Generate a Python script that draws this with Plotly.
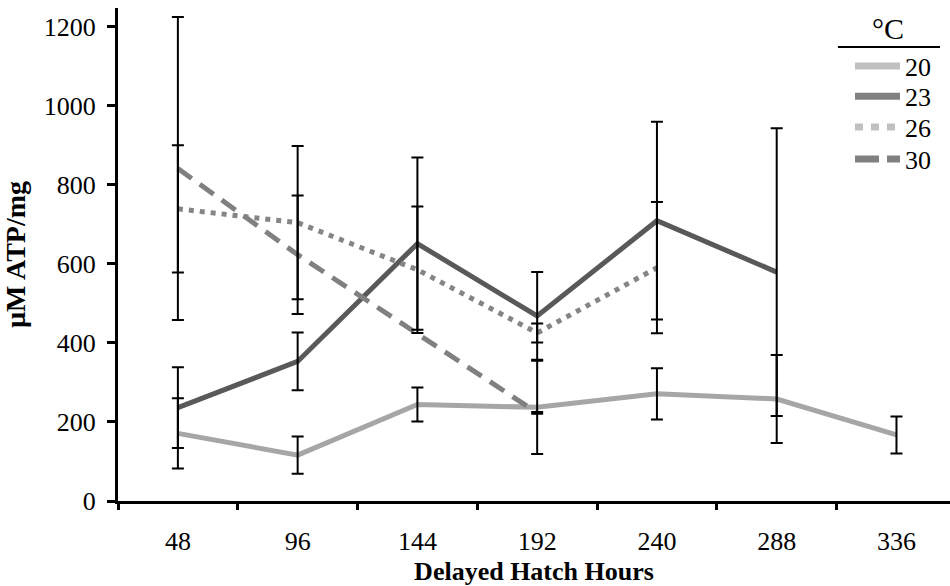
import plotly.graph_objects as go

# Delayed hatch time points (hours)
hours = ["48", "96", "144", "192", "240", "288", "336"]

# Mean ATP (µM ATP/mg) per rearing temperature, with error-bar half-widths
atp_20 = [171, 116, 244, 237, 271, 258, 167]
err_20 = [89, 47, 43, 118, 65, 111, 47]

atp_23 = [236, 353, 651, 468, 709, 579, None]
err_23 = [102, 73, 218, 111, 250, 364, None]

atp_26 = [739, 704, 585, 425, 590, None, None]
err_26 = [161, 194, 160, 24, 166, None, None]

atp_30 = [841, 623, None, 223, None, None, None]
err_30 = [383, 150, None, 2, None, None, None]

temps = ["20", "23", "26", "30"]

FONT = "Liberation Serif"

series = [
    # values, errors, line colour, dash, key colour, key dash
    (atp_20, err_20, "#a6a6a6", "solid", "#c0c0c0", "solid"),
    (atp_23, err_23, "#595959", "solid", "#808080", "solid"),
    (atp_26, err_26, "#858585", "5px,6px", "#c0c0c0", "8px,8px"),
    (atp_30, err_30, "#808080", "17px,10px", "#808080", "24px,8px"),
]

fig = go.Figure()

# data lines
for vals, errs, col, dash, _, _ in series:
    fig.add_trace(go.Scatter(
        x=hours, y=vals, mode="lines", connectgaps=True,
        line=dict(color=col, width=5, dash=dash),
        showlegend=False, hoverinfo="skip",
    ))

# error bars drawn above the lines
for vals, errs, col, dash, _, _ in series:
    fig.add_trace(go.Scatter(
        x=hours, y=vals, mode="markers",
        marker=dict(size=1, color="rgba(0,0,0,0)"),
        error_y=dict(type="data", array=errs, visible=True,
                     color="black", thickness=2, width=6),
        showlegend=False, hoverinfo="skip",
    ))

# one single-entry legend per temperature so each key row can be placed
legend_ids = ["legend", "legend2", "legend3", "legend4"]
legend_rows = [0.882, 0.821, 0.7585, 0.6935]
for name, (vals, errs, col, dash, lcol, ldash), lid in zip(temps, series, legend_ids):
    fig.add_trace(go.Scatter(
        x=[None], y=[None], mode="lines", name=name, legend=lid,
        line=dict(color=lcol, width=7, dash=ldash),
    ))

legend_layout = {}
for lid, ly in zip(legend_ids, legend_rows):
    legend_layout[lid] = dict(
        x=0.8798, y=ly, xanchor="left", yanchor="middle",
        itemwidth=45,
        font=dict(family=FONT, size=26, color="black"),
        bgcolor="rgba(0,0,0,0)",
    )

fig.update_layout(
    width=950, height=586,
    margin=dict(l=118, r=0, t=8, b=85),
    paper_bgcolor="white", plot_bgcolor="white",
    font=dict(family=FONT, size=26, color="black"),
    showlegend=True,
    annotations=[dict(
        text="°C", xref="paper", yref="paper", x=0.925, y=0.921,
        xanchor="center", yanchor="bottom", showarrow=False,
        font=dict(family=FONT, size=30, color="black"),
    )],
    shapes=[dict(
        type="line", xref="paper", yref="paper",
        x0=0.8653, x1=0.988, y0=0.9208, y1=0.9208,
        line=dict(color="black", width=2),
    )],
    **legend_layout,
)

fig.update_xaxes(
    type="category", categoryorder="array", categoryarray=hours,
    range=[-0.5, 6.447], tickson="boundaries",
    showline=True, linewidth=3, linecolor="black",
    ticks="outside", ticklen=6, tickwidth=3, tickcolor="black",
    showgrid=False, zeroline=False,
    tickfont=dict(family=FONT, size=26), ticklabelstandoff=15,
    title=dict(text="<b>Delayed Hatch Hours</b>", standoff=11,
               font=dict(family=FONT, size=26)),
)

fig.update_yaxes(
    range=[0, 1247], tickvals=[0, 200, 400, 600, 800, 1000, 1200],
    showline=True, linewidth=3, linecolor="black",
    ticks="outside", ticklen=8, tickwidth=3, tickcolor="black",
    showgrid=False, zeroline=False,
    tickfont=dict(family=FONT, size=26), ticklabelstandoff=6,
    title=dict(text="<b>µM ATP/mg</b>", standoff=12,
               font=dict(family=FONT, size=28)),
)

fig.write_html("out.html")
